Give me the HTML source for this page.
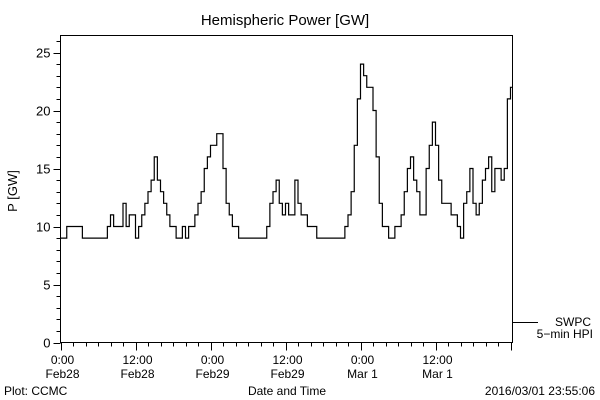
<!DOCTYPE html>
<html><head><meta charset="utf-8"><style>
body{margin:0;background:#fff}
svg{display:block;font-family:"Liberation Sans",sans-serif}
</style></head><body>
<svg id="chart" width="600" height="400" viewBox="0 0 600 400" xmlns="http://www.w3.org/2000/svg">
<rect width="600" height="400" fill="#fff"/>
<text x="285" y="25" font-size="15" text-anchor="middle">Hemispheric Power [GW]</text>
<text x="0" y="0" font-size="13" text-anchor="middle" transform="translate(17,191) rotate(-90)">P [GW]</text>
<rect x="60.5" y="35.5" width="452" height="307" fill="none" stroke="#000" stroke-width="1"/>
<g id="yaxis"></g>
<g id="xaxis"></g>
<path id="series" fill="none" stroke="#000" stroke-width="1.2"/>
<line x1="513" y1="322.5" x2="538" y2="322.5" stroke="#000"/>
<text x="591" y="326" font-size="12" text-anchor="end">SWPC</text>
<text x="593" y="338" font-size="12" text-anchor="end">5−min HPI</text>
<text x="287" y="395" font-size="12" text-anchor="middle">Date and Time</text>
<text x="4" y="395" font-size="12">Plot: CCMC</text>
<text x="595" y="395" font-size="12" text-anchor="end">2016/03/01 23:55:06</text>
</svg>
<script>
const yTicks = [0,5,10,15,20,25];
const xTickHours = [0,12,24,36,48,60];
const xTickTop = ["0:00","12:00","0:00","12:00","0:00","12:00"];
const xTickBottom = ["Feb28","Feb28","Feb29","Feb29","Mar 1","Mar 1"];
const stepHours = 0.5;
const powerGW = [9,9,10,10,10,10,10, 9,9,9,9,9,9,9,9,
10,11,10,10,10,12,10,11,11,9,10,11,12,13,14,16,14,13,12,11,10,10,9,9,10,9,10,10,11,12,13,15,16,17,17,18,18,15,12,11,10,10,
9,9,9,9,9,9,9,9,9,
10,12,13,14,
12,11,12,11,11,14,12,11,11,10,10,10,9,9,9,9,9,9,9,9,9,
10,11,13,17,21,24,23,22,22,20,16,12,10,10,9,9,10,10,11,13,15,16,14,13,11,11,15,17,19,17,14,12,12,12,11,11,10,9,12,13,15,12,11,12,14,15,16,13,15,15,14,15,21,22];

const X0=60.5, PX_PER_H=6.25, Y0=342.5, PX_PER_GW=11.6;
const xs = h => X0 + h*PX_PER_H;
const ys = v => Y0 - v*PX_PER_GW;
const NS="http://www.w3.org/2000/svg";
function mk(tag, attrs, parent){const e=document.createElementNS(NS,tag);for(const k in attrs)e.setAttribute(k,attrs[k]);parent.appendChild(e);return e;}

const yg=document.getElementById('yaxis');
for(let v=0; v<=26; v++){
  const major = v%5===0;
  const t=mk('line',{x1:X0,x2:X0-(major?7:4),y1:Math.round(ys(v))+0.5,y2:Math.round(ys(v))+0.5,stroke:'#000'},yg);
  
  
}
yTicks.forEach(v=>{
  const t=mk('text',{x:X0-10,y:ys(v)+5,'font-size':13,'text-anchor':'end'},yg);
  t.textContent=v;
  
  
});
const xg=document.getElementById('xaxis');
for(let h=0; h<=72; h+=2){
  const major = h%12===0;
  const t=mk('line',{x1:Math.round(xs(h))+0.5,x2:Math.round(xs(h))+0.5,y1:Y0,y2:Y0+(major?8:4),stroke:'#000'},xg);
  
  
}
xTickHours.forEach((h,i)=>{
  const a=mk('text',{x:xs(h)+2,y:364,'font-size':12,'text-anchor':'middle'},xg);
  a.textContent=xTickTop[i];
  
  
  const b=mk('text',{x:xs(h)+2,y:378,'font-size':12,'text-anchor':'middle'},xg);
  b.textContent=xTickBottom[i];
  
  
});
let d='';
powerGW.forEach((v,i)=>{
  const x=xs(i*stepHours), y=ys(v);
  if(i===0) d+=`M${x},${y}`; else d+=`L${x},${ys(powerGW[i-1])}L${x},${y}`;
});
d+=`L${xs(powerGW.length*stepHours-stepHours+0.4)},${ys(powerGW[powerGW.length-1])}`;
document.getElementById('series').setAttribute('d',d);
</script>
</body></html>
